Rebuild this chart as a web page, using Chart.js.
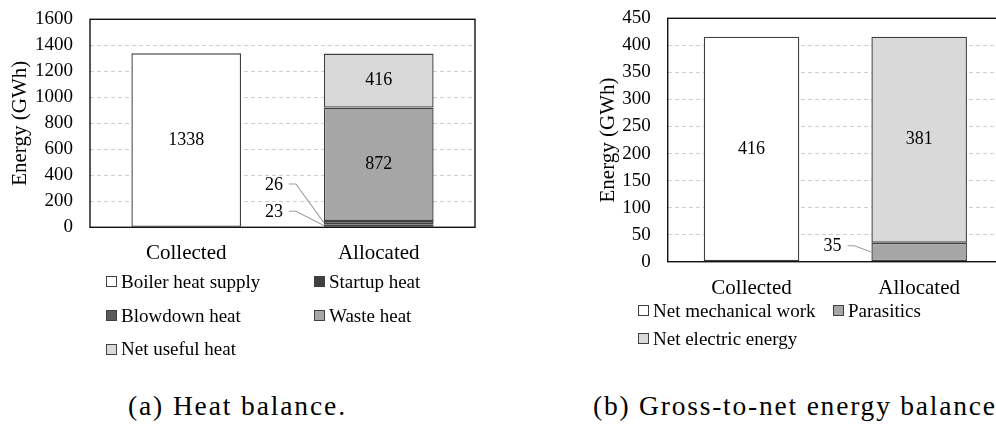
<!DOCTYPE html>
<html>
<head>
<meta charset="utf-8">
<style>
  html, body { margin: 0; padding: 0; background: #fff; }
  body { width: 996px; height: 424px; overflow: hidden; position: relative; color: #000;
         font-family: 'DejaVu Serif', serif; }
  canvas { position: absolute; top: 0; }
  #heatCanvas { left: 0; }
  #energyCanvas { left: 580px; }
  .legend { position: absolute; display: grid; }
  #legendA { left: 106px; top: 265px; grid-template-columns: 208px 208px; grid-auto-rows: 33.7px; }
  #legendB { left: 638px; top: 296.5px; grid-template-columns: 195px 195px; grid-auto-rows: 28px; }
  .item { display: flex; align-items: center; white-space: nowrap; }
  .sw { width: 9px; height: 9px; border: 1px solid #404040; margin-right: 4px; flex: none; }
  .caption { position: absolute; white-space: nowrap; top: 406px; transform: translateY(-50%); }
  #capA { left: 128px; }
  #capB { left: 593px; }
</style>
</head>
<body>
<canvas id="heatCanvas" width="490" height="270"></canvas>
<canvas id="energyCanvas" width="438" height="300"></canvas>
<div class="legend" id="legendA"></div>
<div class="legend" id="legendB"></div>
<div class="caption" id="capA">(a) Heat balance.</div>
<div class="caption" id="capB">(b) Gross-to-net energy balance</div>
<script src="https://cdn.jsdelivr.net/npm/chart.js@4.4.1/dist/chart.umd.min.js"></script>
<script>
// ---- Data -------------------------------------------------------------
const categories = ['Collected', 'Allocated'];

// (a) Heat balance, GWh
const heatSeries   = ['Boiler heat supply', 'Startup heat', 'Blowdown heat', 'Waste heat', 'Net useful heat'];
const boilerHeat   = [1338, null];
const startupHeat  = [null, 23];
const blowdownHeat = [null, 26];
const wasteHeat    = [null, 872];
const usefulHeat   = [null, 416];
const heatTicks    = { min: 0, max: 1600, step: 200 };

// (b) Gross-to-net energy balance, GWh
const energySeries = ['Net mechanical work', 'Parasitics', 'Net electric energy'];
const mechWork     = [416, null];
const parasitics   = [null, 35];
const netElectric  = [null, 381];
const energyTicks  = { min: 0, max: 450, step: 50 };

// ---- Fonts ------------------------------------------------------------
// Use a Times-metric serif when one really resolves; otherwise DejaVu Serif, scaled down.
const probe = document.createElement('canvas').getContext('2d');
function isTimesMetric(name) {
  probe.font = `40px '${name}', monospace`;
  const w = probe.measureText('Boiler heat supply').width;   // Times metrics: ~293px
  return Math.abs(w - 293.3) < 5;
}
const serifName = ['Liberation Serif', 'Times New Roman', 'Tinos'].find(isTimesMetric) || 'DejaVu Serif';
const k = serifName === 'DejaVu Serif' ? 0.82 : 1;
const FONT = `'${serifName}'`;
const SZ = { tick: 19 * k, title: 21 * k, cat: 21 * k, value: 18 * k, legend: 19 * k };

// ---- Styling ----------------------------------------------------------
const EDGE = '#404040';
const fills = { white: '#ffffff', dark: '#404040', darkMid: '#5a5a5a', mid: '#a6a6a6', light: '#d9d9d9' };

function ds(label, data, color) {
  return { label, data, backgroundColor: color, borderColor: EDGE, borderWidth: 1.4,
           borderSkipped: false, categoryPercentage: 1, barPercentage: 0.57 };
}

// Frame around the plot area
const framePlugin = {
  id: 'plotFrame',
  afterDatasetsDraw(chart) {
    const { ctx, chartArea: a } = chart;
    ctx.save();
    ctx.strokeStyle = '#111';
    ctx.lineWidth = 1.4;
    ctx.strokeRect(a.left, a.top, a.right - a.left, a.bottom - a.top);
    ctx.restore();
  }
};

// Segment values: centred in the segment, or beside it with a leader line
const valueLabels = {
  id: 'valueLabels',
  afterDatasetsDraw(chart, args, opts) {
    const { ctx, chartArea: a } = chart;
    const callouts = opts.callouts || {};
    ctx.save();
    ctx.font = SZ.value + 'px ' + FONT;
    ctx.fillStyle = '#000';
    ctx.textBaseline = 'middle';
    chart.data.datasets.forEach((d, i) => {
      const meta = chart.getDatasetMeta(i);
      d.data.forEach((v, j) => {
        if (v == null) return;
        const el = meta.data[j];
        const midY = (el.y + el.base) / 2;
        const c = callouts[i];
        if (c) {
          const edgeX = el.x - el.width / 2;
          const ty = a.bottom + c.dy;
          ctx.textAlign = 'right';
          ctx.fillText(String(v), edgeX + c.dx, ty);
          ctx.strokeStyle = '#a0a0a0';
          ctx.lineWidth = 1.1;
          ctx.beginPath();
          ctx.moveTo(edgeX + c.dx + 6, ty - 1);
          ctx.lineTo(edgeX + c.dx + 13, ty - 1);
          ctx.lineTo(edgeX, midY);
          ctx.stroke();
        } else {
          ctx.textAlign = 'center';
          ctx.fillText(String(v), el.x, midY);
        }
      });
    });
    ctx.restore();
  }
};

function makeChart(canvasId, datasets, ticks, geom, callouts) {
  return new Chart(document.getElementById(canvasId), {
    type: 'bar',
    data: { labels: categories, datasets },
    plugins: [framePlugin, valueLabels],
    options: {
      responsive: false,
      animation: false,
      events: [],
      layout: { padding: { top: geom.top, right: geom.right, left: 0, bottom: 0 } },
      plugins: { legend: { display: false }, tooltip: { enabled: false }, valueLabels: { callouts } },
      scales: {
        x: {
          stacked: true,
          grid: { display: false, drawTicks: false },
          border: { display: false },
          ticks: { color: '#000', font: { family: FONT, size: SZ.cat },
                   padding: geom.catGap - 0.51 * SZ.cat, maxRotation: 0 },
          afterFit: s => { s.height = geom.xHeight; s.paddingLeft = 0; s.paddingRight = 0; }
        },
        y: {
          stacked: true,
          min: ticks.min, max: ticks.max,
          grid: { color: '#cfcfcf', lineWidth: 1, drawTicks: false },
          border: { display: false, dash: [4, 3] },
          ticks: { stepSize: ticks.step, autoSkip: false, color: '#000',
                   font: { family: FONT, size: SZ.tick }, padding: 17, callback: v => String(v) },
          title: { display: true, text: 'Energy (GWh)', color: '#000',
                   font: { family: FONT, size: SZ.title },
                   padding: { top: geom.titleX - 0.6 * SZ.title, bottom: 0 } },
          afterFit: s => { s.width = geom.yWidth; s.paddingTop = 0; s.paddingBottom = 0; }
        }
      }
    }
  });
}

function buildLegend(chart, elId, order) {
  const box = document.getElementById(elId);
  box.style.fontFamily = FONT;
  box.style.fontSize = SZ.legend + 'px';
  order.forEach(i => {
    const d = chart.data.datasets[i];
    const item = document.createElement('div');
    item.className = 'item';
    const sw = document.createElement('span');
    sw.className = 'sw';
    sw.style.background = d.backgroundColor;
    item.appendChild(sw);
    item.appendChild(document.createTextNode(d.label));
    box.appendChild(item);
  });
}

// Captions: spread to their set widths
function fitCaption(id, width) {
  const el = document.getElementById(id);
  const size = k === 1 ? 27.5 : 24.5;
  const text = el.textContent;
  probe.font = `${size}px ${FONT}`;
  const w = probe.measureText(text).width;
  el.style.fontFamily = FONT;
  el.style.fontSize = size + 'px';
  el.style.letterSpacing = ((width - w) / (text.length - 1)) + 'px';
}

const heatChart = makeChart('heatCanvas', [
  ds(heatSeries[0], boilerHeat, fills.white),
  ds(heatSeries[1], startupHeat, fills.dark),
  ds(heatSeries[2], blowdownHeat, fills.darkMid),
  ds(heatSeries[3], wasteHeat, fills.mid),
  ds(heatSeries[4], usefulHeat, fills.light)
], heatTicks, { top: 19.3, right: 15, xHeight: 42.7, yWidth: 90, catGap: 24.7, titleX: 20 },
   { 1: { dx: -41, dy: -15 }, 2: { dx: -41, dy: -42.3 } });

const energyChart = makeChart('energyCanvas', [
  ds(energySeries[0], mechWork, fills.white),
  ds(energySeries[1], parasitics, fills.mid),
  ds(energySeries[2], netElectric, fills.light)
], energyTicks, { top: 18.3, right: 15, xHeight: 38.3, yWidth: 87.7, catGap: 24.7, titleX: 28.3 },
   { 1: { dx: -30, dy: -15 } });

buildLegend(heatChart, 'legendA', [0, 1, 2, 3, 4]);
buildLegend(energyChart, 'legendB', [0, 1, 2]);
fitCaption('capA', 217);
fitCaption('capB', 402);
</script>
</body>
</html>
